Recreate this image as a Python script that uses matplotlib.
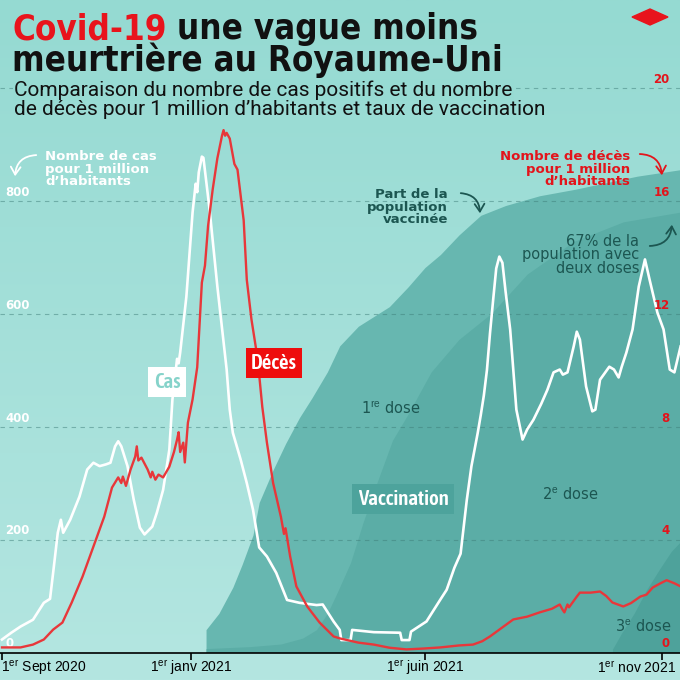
import matplotlib
matplotlib.use('Agg')
import matplotlib.pyplot as plt
import numpy as np
import pandas as pd
from matplotlib.patches import FancyArrowPatch, Polygon
from matplotlib import font_manager
from matplotlib.font_manager import FontProperties
from matplotlib.colors import LinearSegmentedColormap

# ---------------- data (days since 1 Sept 2020) ----------------
START = pd.Timestamp('2020-09-01')

case_day = [0, 6, 12, 20, 27, 31, 33, 36, 38, 39.5,
            44, 50, 55, 59, 63, 67, 70, 73, 75, 77,
            81, 85, 89, 92, 97, 100, 104, 108, 110, 113,
            114, 115, 119, 123, 125, 126, 127, 129, 130, 134,
            139, 145, 147, 149, 154, 158, 162, 166, 171, 177,
            184, 192, 203, 207, 214, 218, 219, 225, 226, 240,
            257, 258, 263, 264, 274, 283, 287, 292, 296, 300,
            303, 307, 309, 311, 313, 315, 317, 319, 321, 323,
            325, 328, 332, 336, 339, 343, 348, 352, 356, 360,
            362, 365, 369, 371, 373, 377, 381, 383, 386, 392,
            395, 398, 400, 403, 407, 411, 415, 418, 423, 427,
            431, 434, 438]
case_val = [23, 35, 46, 58, 88, 95, 141, 212, 235, 212,
            235, 276, 324, 336, 330, 333, 336, 365, 374, 365,
            330, 271, 221, 209, 223, 248, 288, 359, 448, 520,
            512, 531, 630, 779, 830, 815, 850, 878, 876, 784,
            648, 501, 430, 389, 342, 300, 253, 186, 170, 141,
            93, 88, 84, 85, 55, 40, 22, 22, 40, 36,
            35, 22, 22, 37, 55, 94, 111, 150, 175, 270,
            330, 388, 420, 455, 500, 566, 624, 680, 701, 690,
            640, 572, 430, 377, 395, 412, 440, 465, 496, 501,
            492, 496, 542, 568, 554, 471, 427, 430, 483, 506,
            501, 487, 506, 531, 572, 648, 696, 660, 602, 572,
            501, 496, 542]

death_day = [0, 12, 20, 27, 33, 39, 45, 52, 59, 66,
             71, 75, 77, 78, 80, 83, 86, 87, 88, 90,
             94, 96, 97, 99, 101, 104, 108, 111, 113, 114,
             115, 117, 118, 120, 123, 126, 129, 131, 133, 136,
             139, 142, 143, 144, 145, 147, 150, 152, 156, 158,
             161, 165, 168, 171, 175, 180, 182, 183, 186, 190,
             197, 205, 214, 218, 230, 240, 250, 261, 272, 283,
             295, 304, 310, 315, 322, 330, 339, 347, 355, 360,
             362, 363, 365, 366, 371, 373, 380, 386, 390, 394,
             401, 406, 412, 416, 420, 425, 429, 434, 438]
death_val = [0.18, 0.18, 0.28, 0.46, 0.81, 1.06, 1.77, 2.69, 3.75, 4.81,
             5.84, 6.2, 6.0, 6.23, 5.9, 6.48, 6.94, 7.3, 6.8, 6.9,
             6.48, 6.2, 6.4, 6.12, 6.3, 6.2, 6.58, 7.1, 7.54, 7.8,
             7.1, 7.43, 6.73, 8.14, 8.96, 10.1, 13.1, 13.7, 15.1, 16.4,
             17.5, 18.3, 18.5, 18.3, 18.4, 18.2, 17.3, 17.1, 15.3, 13.2,
             11.8, 10.4, 8.7, 7.43, 6.0, 4.81, 4.2, 4.4, 3.4, 2.34,
             1.63, 1.06, 0.57, 0.5, 0.35, 0.28, 0.17, 0.11, 0.14, 0.18,
             0.25, 0.28, 0.4, 0.57, 0.85, 1.17, 1.27, 1.42, 1.55, 1.7,
             1.5, 1.42, 1.7, 1.6, 1.98, 2.12, 2.12, 2.16, 2.0, 1.77,
             1.63, 1.75, 1.98, 2.05, 2.3, 2.45, 2.56, 2.45, 2.34]

dose1_day = [131.7, 140, 149, 155, 162, 166, 175, 183, 192, 200,
             210, 218, 230, 240, 250, 262, 273, 283, 295, 309,
             325, 347, 370, 390, 410, 438]
dose1_pct = [3.5, 6, 10, 13.5, 18, 23, 28, 32, 36, 39,
             43, 47, 50, 51.5, 53, 56, 59, 61, 64, 67,
             68.5, 70, 71, 72, 73, 74]

dose2_day = [131.7, 160, 180, 194, 203, 210, 216, 225, 233, 242,
             252, 262, 277, 295, 316, 339, 369, 401, 438]
dose2_pct = [0.6, 0.9, 1.3, 2.2, 3.5, 6, 9, 13.8, 19.9, 26,
             32.5, 36.5, 43, 48, 52, 58, 63, 66, 67.5]

dose3_day = [394, 400, 408, 416, 425, 432, 438]
dose3_pct = [0.5, 3, 6, 9.6, 13, 15.5, 17]

x_tick_dates = ['2020-09-01', '2021-01-01', '2021-06-01', '2021-11-01']
x_tick_labels = [r'1$^{\mathrm{er}}$ Sept 2020', r'1$^{\mathrm{er}}$ janv 2021',
                 r'1$^{\mathrm{er}}$ juin 2021', r'1$^{\mathrm{er}}$ nov 2021']
left_ticks = [0, 200, 400, 600, 800, 1000]
left_labels = ['0', '200', '400', '600', '800', '']
right_ticks = [0, 4, 8, 12, 16, 20]

# ---------------- fonts ----------------
ttf = font_manager.fontManager.ttflist
names = {f.name for f in ttf}


def _is_cond(f):
    return ('Narrow' in f.name or 'Condensed' in f.name
            or str(f.stretch) in ('condensed', 'semi-condensed', 'extra-condensed'))


def _w(f):
    w = f.weight
    if isinstance(w, str):
        w = {'bold': 700, 'normal': 400, 'regular': 400, 'medium': 500,
             'black': 900, 'heavy': 900}.get(w, 400)
    return w


cond = [f for f in ttf if _is_cond(f) and 'italic' not in str(f.style).lower()
        and 'oblique' not in str(f.style).lower()]
cond_bold = sorted([f for f in cond if _w(f) >= 700], key=lambda f: _w(f))
cond_reg = sorted([f for f in cond if 400 <= _w(f) < 700], key=lambda f: -_w(f))

SUB = 'Roboto' if 'Roboto' in names else 'DejaVu Sans'
if cond_bold:
    TITLE_FP = dict(fontproperties=FontProperties(fname=cond_bold[0].fname, size=25))
else:
    TITLE_FP = dict(family=SUB, fontweight='black', fontsize=24)
if cond_reg:
    LAB_FP = dict(fontproperties=FontProperties(fname=cond_reg[0].fname, size=15))
elif cond_bold:
    LAB_FP = dict(fontproperties=FontProperties(fname=cond_bold[0].fname, size=15))
else:
    LAB_FP = dict(family=SUB, fontweight='medium', fontsize=13)

plt.rcParams['mathtext.fontset'] = 'custom'
plt.rcParams['mathtext.rm'] = 'Liberation Sans'
plt.rcParams['mathtext.it'] = 'Liberation Sans:italic'
plt.rcParams['mathtext.bf'] = 'Liberation Sans:bold'


def to_dates(days):
    return START + pd.to_timedelta(np.asarray(days, dtype=float), unit='D')


W = H = 680
fig = plt.figure(figsize=(6.8, 6.8), dpi=100)


def P(x, y):
    return (x / W, 1 - y / H)


# background gradient
bg = fig.add_axes([0, 0, 1, 1])
bg.set_zorder(-5)
cmap = LinearSegmentedColormap.from_list('bg', ['#b4e6e1', '#95dad2'])
grad = np.linspace(0, 1, 256).reshape(-1, 1)
bg.imshow(grad, aspect='auto', cmap=cmap, extent=[0, 1, 0, 1], origin='lower')
bg.axis('off')

rect = [0, 27.5 / H, 1, 652.5 / H]
ax = fig.add_axes(rect)
ax_v = ax.twinx()
ax_d = ax.twinx()
ax_v.set_zorder(1)
ax.set_zorder(2)
ax_d.set_zorder(3)
for a in (ax, ax_v, ax_d):
    a.patch.set_visible(False)
    for s in a.spines.values():
        s.set_visible(False)
    a.set_yticks([])

x0 = START - pd.Timedelta(days=2 / 1.5493)
x1 = START + pd.Timedelta(days=678 / 1.5493)
ax.set_xlim(x0, x1)
ax.set_ylim(0, 1155.3)
ax_d.set_ylim(0, 1155.3 / 50)
ax_v.set_ylim(0, 100)

# vaccination areas
ax_v.fill_between(to_dates(dose1_day), 0, dose1_pct, color='#67b7b0', lw=0)
ax_v.fill_between(to_dates(dose2_day), 0, dose2_pct, color='#5badA6', lw=0)
ax_v.fill_between(to_dates(dose3_day), 0, dose3_pct, color='#4ea29b', lw=0)

# gridlines
for v in left_ticks[1:]:
    ax.axhline(v, color='#3f7f7a', lw=0.8, dashes=(4, 4), alpha=0.5, zorder=1)

# lines
ax.plot(to_dates(case_day), case_val, color='white', lw=1.9, zorder=3,
        solid_joinstyle='round')
ax_d.plot(to_dates(death_day), death_val, color='#e8373a', lw=1.7, zorder=3,
          solid_joinstyle='round')

# y labels
for v, lab in zip(left_ticks, left_labels):
    ax.annotate(lab, xy=(0.008, v), xycoords=('axes fraction', 'data'),
                xytext=(0, 1.5), textcoords='offset points', va='bottom', ha='left',
                color='white', fontsize=8.5, fontweight='bold', zorder=5)
for v in right_ticks:
    ax_d.annotate(str(v), xy=(0.985, v), xycoords=('axes fraction', 'data'),
                  xytext=(0, 1.5), textcoords='offset points', va='bottom', ha='right',
                  color='#e3141b', fontsize=8.5, fontweight='bold', zorder=5)

# x axis
ax.spines['bottom'].set_visible(True)
ax.spines['bottom'].set_color('black')
ax.spines['bottom'].set_linewidth(1.2)
ax.set_xticks(pd.to_datetime(x_tick_dates))
ax.set_xticklabels([])
ax.tick_params(axis='x', length=5, width=1.2, color='black', direction='out')
offs = [(-1, 'left'), (0, 'center'), (0, 'center'), (10, 'right')]
for d, lab, (dx, ha) in zip(pd.to_datetime(x_tick_dates), x_tick_labels, offs):
    ax.annotate(lab, xy=(d, 0), xycoords=('data', 'axes fraction'),
                xytext=(dx, -11), textcoords='offset points', ha=ha, va='center',
                fontsize=10, family='Liberation Sans', color='black',
                annotation_clip=False)

# ---------------- title ----------------
t1 = fig.text(*P(12, 39), 'Covid-19', color='#e8141c', va='baseline', **TITLE_FP)
fig.add_artist(plt.Annotation(' une vague moins', xy=(1, 0), xycoords=t1,
                              va='bottom', ha='left', color='#111111', **TITLE_FP))
fig.text(*P(12, 71), 'meurtrière au Royaume-Uni', color='#111111', va='baseline',
         **TITLE_FP)
fig.text(*P(14, 96), 'Comparaison du nombre de cas positifs et du nombre',
         color='#111111', fontsize=15, family=SUB, fontweight='normal', va='baseline',
         bbox=dict(facecolor='#97dbd3', edgecolor='none', pad=1), zorder=10)
fig.text(*P(14, 115), 'de décès pour 1 million d’habitants et taux de vaccination',
         color='#111111', fontsize=15, family=SUB, fontweight='normal', va='baseline',
         zorder=10)

# red diamond logo
fig.add_artist(Polygon([P(632, 17), P(650, 9), P(668, 17), P(650, 25)],
                       closed=True, transform=fig.transFigure, color='#e8141c',
                       zorder=10))

# ---------------- annotations ----------------
TEAL = '#1c5651'
fig.text(*P(45, 169), 'Nombre de cas\npour 1 million\nd’habitants', color='white',
         fontsize=9.5, fontweight='bold', va='center', ha='left', linespacing=0.95,
         zorder=10)
fig.text(*P(630, 169), 'Nombre de décès\npour 1 million\nd’habitants', color='#e3141b',
         fontsize=9.5, fontweight='bold', va='center', ha='right', linespacing=0.95,
         zorder=10, multialignment='right')
fig.text(*P(448, 207), 'Part de la\npopulation\nvaccinée', color=TEAL,
         fontsize=9.5, fontweight='bold', va='center', ha='right', linespacing=0.95,
         zorder=10, multialignment='right')
fig.text(*P(639, 255), '67% de la\npopulation avec\ndeux doses', color=TEAL,
         fontsize=10.5, va='center', ha='right', linespacing=0.9,
         zorder=10, multialignment='right')

fig.text(*P(391, 408), r'1$^{\mathrm{re}}$ dose', color=TEAL, fontsize=10.5,
         ha='center', va='center', zorder=10)
fig.text(*P(570, 494), r'2$^{\mathrm{e}}$ dose', color=TEAL, fontsize=10.5,
         ha='center', va='center', zorder=10)
fig.text(*P(643, 626), r'3$^{\mathrm{e}}$ dose', color=TEAL, fontsize=10.5,
         ha='center', va='center', zorder=10)

fig.text(*P(167, 382), 'Cas', color='#86d3ca', ha='center', va='center', zorder=10,
         bbox=dict(facecolor='white', edgecolor='none', boxstyle='square,pad=0.25'),
         **LAB_FP)
fig.text(*P(274, 363), 'Décès', color='white', ha='center', va='center', zorder=10,
         bbox=dict(facecolor='#ee0d0d', edgecolor='none', boxstyle='square,pad=0.25'),
         **LAB_FP)
fig.text(*P(403, 499), 'Vaccination', color='white', ha='center', va='center',
         zorder=10,
         bbox=dict(facecolor='#4da39c', edgecolor='none', boxstyle='square,pad=0.25'),
         **LAB_FP)


def arrow(a, b, rad, color):
    fig.add_artist(FancyArrowPatch(P(*a), P(*b), transform=fig.transFigure,
                                   connectionstyle=f'arc3,rad={rad}',
                                   arrowstyle='->,head_length=0.55,head_width=0.35',
                                   mutation_scale=10, color=color, lw=1.3, zorder=10))


arrow((39, 155), (15, 179), 0.5, 'white')
arrow((458, 193), (480, 216), -0.5, TEAL)
arrow((637, 154), (662, 178), -0.5, '#e3141b')
arrow((647, 246), (672, 222), 0.5, TEAL)

fig.savefig('out.png', dpi=100)
